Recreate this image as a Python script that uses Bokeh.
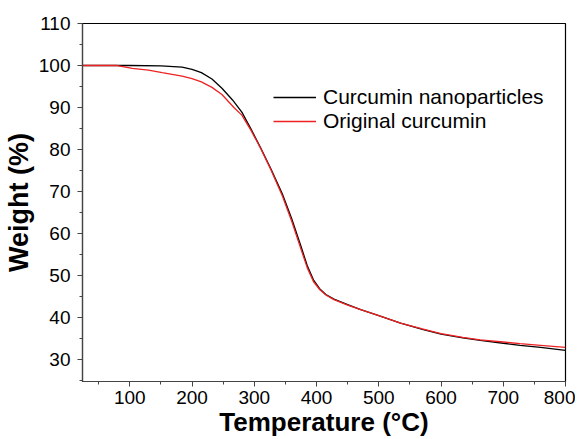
from bokeh.plotting import figure
from bokeh.models import Range1d, Legend, LegendItem, FixedTicker
from bokeh.embed import file_html
from bokeh.resources import INLINE

# Curcumin nanoparticles (black)
temp_nano = [25, 60, 100, 150, 184, 200, 215, 232, 248, 265, 280, 295, 310, 327, 345, 360, 375, 385, 395, 405, 415, 428, 450, 471, 500, 535, 570, 600, 635, 663, 700, 727, 760, 800]
wt_nano = [100, 100, 100, 99.9, 99.6, 99.1, 98.3, 96.8, 94.6, 91.8, 88.9, 84.8, 80.5, 75.3, 69.5, 63.6, 57.0, 52.4, 49.0, 46.9, 45.5, 44.4, 43.1, 41.9, 40.5, 38.7, 37.2, 36.1, 35.2, 34.6, 33.9, 33.4, 32.9, 32.2]

# Original curcumin (red)
temp_orig = [25, 60, 80, 104, 130, 152, 184, 200, 215, 232, 248, 268, 280, 295, 310, 327, 345, 360, 375, 385, 395, 405, 415, 428, 450, 471, 500, 535, 570, 600, 635, 663, 700, 727, 760, 800]
wt_orig = [100, 100, 100, 99.3, 98.9, 98.3, 97.5, 96.9, 96.1, 94.8, 93.1, 89.9, 88.2, 84.5, 80.3, 75.1, 69.0, 63.0, 56.3, 51.9, 48.6, 46.7, 45.4, 44.3, 43.0, 41.9, 40.5, 38.7, 37.3, 36.2, 35.3, 34.7, 34.2, 33.8, 33.4, 32.9]

x_ticks = [100, 200, 300, 400, 500, 600, 700, 800]
y_ticks = [30, 40, 50, 60, 70, 80, 90, 100, 110]

p = figure(width=575, height=439, output_backend="svg", toolbar_location=None,
           x_range=Range1d(24, 800), y_range=Range1d(24.8, 110),
           min_border_left=80, min_border_top=23, min_border_right=10, min_border_bottom=58)
p.xgrid.visible = False
p.ygrid.visible = False
p.outline_line_color = "black"
p.outline_line_width = 1.2
p.background_fill_color = "white"
p.border_fill_color = "white"

r1 = p.line(temp_nano, wt_nano, line_color="black", line_width=1.3)
r2 = p.line(temp_orig, wt_orig, line_color="#ee2222", line_width=1.3)

for ax in (p.xaxis[0], p.yaxis[0]):
    ax.axis_line_color = "#444444"
    ax.axis_line_width = 1.2
    ax.major_tick_line_color = "#444444"
    ax.minor_tick_line_color = "#444444"
    ax.major_tick_out = 5
    ax.major_tick_in = 0
    ax.minor_tick_out = 3
    ax.minor_tick_in = 0
    ax.major_label_text_font = "Liberation Sans"
    ax.major_label_text_font_size = "19px"
    ax.major_label_text_color = "black"
    ax.axis_label_text_font = "Liberation Sans"
    ax.axis_label_text_font_style = "bold"
    ax.axis_label_text_color = "black"

p.xaxis.axis_label_text_font_size = "26px"
p.yaxis.axis_label_text_font_size = "27px"
p.xaxis.ticker = FixedTicker(ticks=x_ticks, minor_ticks=[50 + 100 * i for i in range(8)])
p.yaxis.ticker = FixedTicker(ticks=y_ticks, minor_ticks=[25 + 10 * i for i in range(9)])
p.xaxis.axis_label = "Temperature (°C)"
p.yaxis.axis_label = "Weight (%)"
p.xaxis.major_label_standoff = 4
p.yaxis.major_label_standoff = 7
p.xaxis.axis_label_standoff = 0
p.yaxis.axis_label_standoff = 2

legend = Legend(items=[LegendItem(label="Curcumin nanoparticles", renderers=[r1]),
                       LegendItem(label="Original curcumin", renderers=[r2])],
                location=(191, 248), border_line_color=None, background_fill_alpha=0,
                padding=0, margin=0, spacing=0, label_height=24, glyph_height=24,
                glyph_width=43, label_standoff=7,
                label_text_font="Liberation Sans", label_text_font_size="21px",
                label_text_color="black")
p.add_layout(legend)

open("out.html", "w").write(file_html(p, INLINE))
